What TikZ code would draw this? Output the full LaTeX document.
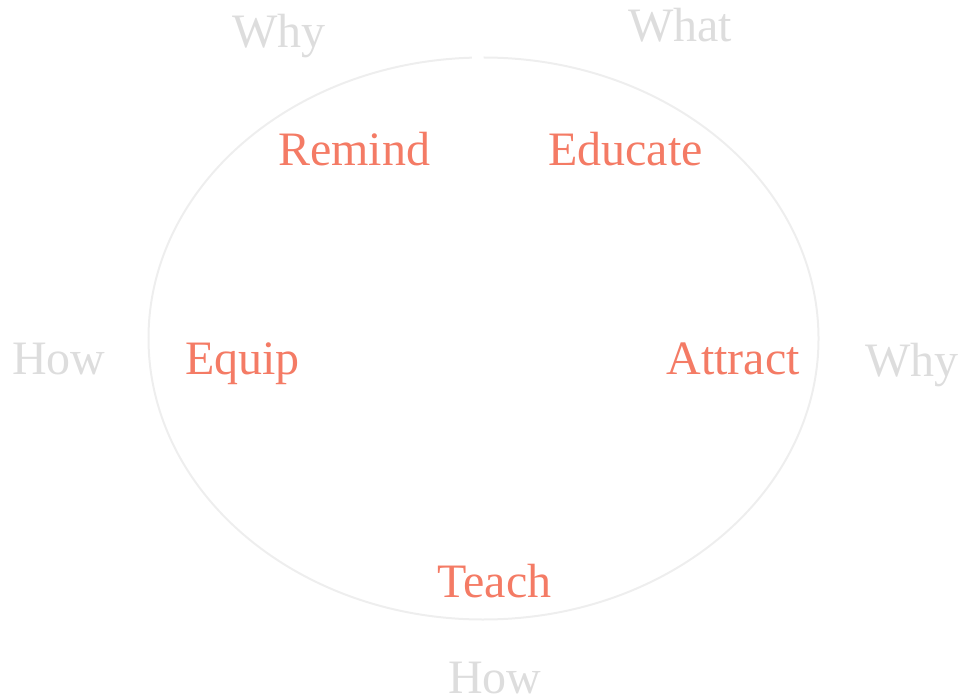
\documentclass[tikz,border=0pt]{standalone}
\usepackage{fontspec}
\setmainfont{Liberation Serif}
\definecolor{salmon}{HTML}{F47B65}
\definecolor{faint}{HTML}{DDDDDD}
\definecolor{ring}{HTML}{EEEEEE}
\tikzset{
    action/.style={text=salmon, anchor=base, inner sep=0pt, font=\fontsize{48}{56}\selectfont},
    question/.style={text=faint, anchor=base, inner sep=0pt, font=\fontsize{48}{56}\selectfont}
}

\begin{document}
\begin{tikzpicture}[x=1pt, y=-1pt]
                \useasboundingbox (0, 0) rectangle (961, 700);
                % Ring
                \coordinate (centre) at (483.5, 338.5);
                \draw [ring, line width=2pt] (centre) ++(92:335 and -281) arc [start angle=92, end angle=450, x radius=335, y radius=-281];
                % Actions
                \node [action] (remind) at (354, 166) {Remind};
                \node [action] (educate) at (625.5, 166) {Educate};
                \node [action] (equip) at (242.5, 375) {Equip};
                \node [action] (attract) at (733, 375) {Attract};
                \node [action] (teach) at (494.5, 597) {Teach};
                % Questions
                \node [question] (whyleft) at (279, 48) {Why};
                \node [question] (what) at (680, 42) {What};
                \node [question] (howleft) at (59, 375) {How};
                \node [question] (whyright) at (912, 377) {Why};
                \node [question] (howbottom) at (495, 693) {How};
            \end{tikzpicture}
\end{document}
